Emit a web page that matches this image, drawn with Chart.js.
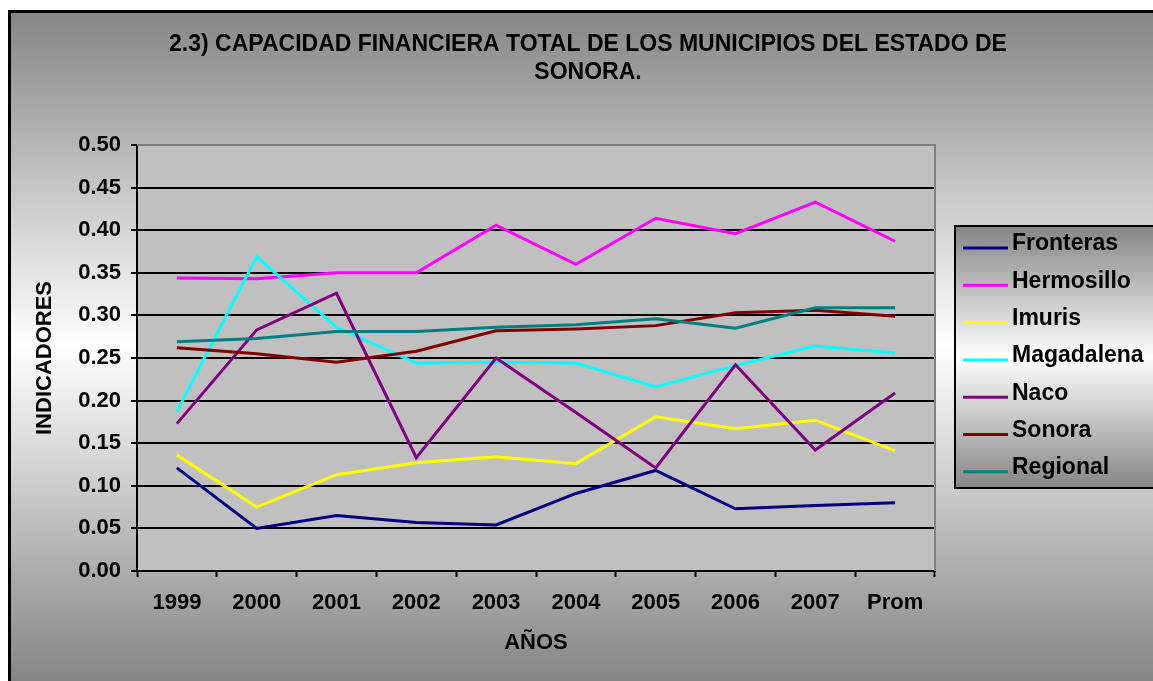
<!DOCTYPE html>
<html lang="es">
<head>
<meta charset="utf-8">
<title>Capacidad financiera total - Sonora</title>
<script src="https://cdn.jsdelivr.net/npm/chart.js@4.4.1/dist/chart.umd.min.js"></script>
<style>
  html, body { margin: 0; padding: 0; background: #fff; }
  #wrap { width: 1153px; height: 681px; }
  canvas { display: block; }
</style>
</head>
<body>
<div id="wrap"><canvas id="chart" width="1153" height="681"></canvas></div>
<script>
// Categorías (años) y valores de cada municipio
const categories = ['1999', '2000', '2001', '2002', '2003', '2004', '2005', '2006', '2007', 'Prom'];
const fronteras  = [0.121, 0.050, 0.065, 0.057, 0.054, 0.091, 0.118, 0.073, 0.077, 0.080];
const hermosillo = [0.344, 0.343, 0.350, 0.350, 0.406, 0.360, 0.414, 0.396, 0.433, 0.387];
const imuris     = [0.136, 0.075, 0.113, 0.127, 0.134, 0.126, 0.181, 0.167, 0.177, 0.141];
const magadalena = [0.187, 0.369, 0.286, 0.244, 0.245, 0.244, 0.216, 0.241, 0.264, 0.256];
const naco       = [0.173, 0.283, 0.326, 0.133, 0.250, 0.186, 0.121, 0.242, 0.142, 0.209];
const sonora     = [0.262, 0.255, 0.245, 0.258, 0.282, 0.284, 0.288, 0.303, 0.306, 0.299];
const regional   = [0.269, 0.273, 0.281, 0.281, 0.286, 0.289, 0.296, 0.285, 0.309, 0.309];

const seriesNames = ['Fronteras', 'Hermosillo', 'Imuris', 'Magadalena', 'Naco', 'Sonora', 'Regional'];
const seriesData = [fronteras, hermosillo, imuris, magadalena, naco, sonora, regional];
const seriesColors = ['#000080', '#FF00FF', '#FFFF00', '#00FFFF', '#800080', '#800000', '#008080'];

const titleLines = ['2.3) CAPACIDAD FINANCIERA TOTAL DE LOS MUNICIPIOS DEL ESTADO DE', 'SONORA.'];
const FONT = "'Liberation Sans', Arial, Helvetica, sans-serif";

function grayBand(ctx, y0, y1) {
  const g = ctx.createLinearGradient(0, y0, 0, y1);
  g.addColorStop(0, '#858585');
  g.addColorStop(0.5, '#ffffff');
  g.addColorStop(1, '#858585');
  return g;
}

// Fondo, marco, título y leyenda
const decor = {
  id: 'decor',
  beforeDraw(chart) {
    const ctx = chart.ctx;
    const W = chart.width, H = chart.height;
    const a = chart.chartArea;
    ctx.save();
    ctx.fillStyle = '#ffffff';
    ctx.fillRect(0, 0, W, H);
    ctx.fillStyle = grayBand(ctx, 10, H);
    ctx.fillRect(8, 10, W - 8, H - 10);
    ctx.strokeStyle = '#000';
    ctx.lineWidth = 3;
    ctx.beginPath();
    ctx.moveTo(9.5, H);
    ctx.lineTo(9.5, 11.5);
    ctx.lineTo(W, 11.5);
    ctx.stroke();
    ctx.fillStyle = '#C0C0C0';
    ctx.fillRect(a.left, a.top, a.right - a.left, a.bottom - a.top);
    ctx.restore();
  },
  beforeDatasetsDraw(chart) {
    const ctx = chart.ctx;
    const a = chart.chartArea;
    ctx.save();
    ctx.strokeStyle = '#808080';
    ctx.lineWidth = 2;
    ctx.beginPath();
    ctx.moveTo(a.left, a.top);
    ctx.lineTo(a.right, a.top);
    ctx.lineTo(a.right, a.bottom);
    ctx.stroke();
    ctx.restore();
  },
  afterDraw(chart) {
    const ctx = chart.ctx;
    ctx.save();
    // título
    ctx.fillStyle = '#000';
    ctx.font = 'bold 23px ' + FONT;
    ctx.textAlign = 'center';
    ctx.textBaseline = 'middle';
    ctx.fillText(titleLines[0], 588, 45);
    ctx.fillText(titleLines[1], 588, 73);

    // leyenda
    const lx = 955, ly = 226, lw = 230, lh = 262;
    ctx.fillStyle = grayBand(ctx, ly, ly + lh);
    ctx.fillRect(lx, ly, lw, lh);
    ctx.strokeStyle = '#000';
    ctx.lineWidth = 2;
    ctx.strokeRect(lx, ly, lw, lh);
    ctx.font = 'bold 23px ' + FONT;
    ctx.textAlign = 'left';
    ctx.textBaseline = 'middle';
    chart.data.datasets.forEach((ds, i) => {
      const cy = 244 + i * 37.3;
      ctx.strokeStyle = ds.borderColor;
      ctx.lineWidth = 3;
      ctx.beginPath();
      ctx.moveTo(963, cy + 4);
      ctx.lineTo(1008, cy + 4);
      ctx.stroke();
      ctx.fillStyle = '#000';
      ctx.fillText(ds.label, 1012, cy);
    });
    ctx.restore();
  }
};

const datasets = seriesNames.map((name, i) => ({
  label: name,
  data: seriesData[i],
  borderColor: seriesColors[i],
  backgroundColor: seriesColors[i],
  borderWidth: 3,
  pointRadius: 0,
  pointHoverRadius: 0,
  tension: 0,
  fill: false,
  order: seriesNames.length - i
}));

new Chart(document.getElementById('chart'), {
  type: 'line',
  data: { labels: categories, datasets },
  plugins: [decor],
  options: {
    responsive: false,
    animation: false,
    events: [],
    layout: { padding: { top: 145, right: 218, left: 0, bottom: 0 } },
    plugins: {
      legend: { display: false },
      title: { display: false },
      tooltip: { enabled: false }
    },
    scales: {
      x: {
        type: 'category',
        offset: true,
        afterFit(scale) { scale.height = 110; },
        grid: {
          offset: true,
          drawOnChartArea: false,
          drawTicks: true,
          tickLength: 6,
          tickColor: '#000',
          tickWidth: 2
        },
        border: { display: true, color: '#000', width: 2 },
        ticks: {
          color: '#000',
          padding: 13,
          maxRotation: 0,
          autoSkip: false,
          font: { family: FONT, size: 22, weight: 'bold' }
        },
        title: {
          display: true,
          text: 'AÑOS',
          color: '#000',
          padding: { top: 0, bottom: 25 },
          font: { family: FONT, size: 22, weight: 'bold' }
        }
      },
      y: {
        min: 0,
        max: 0.5,
        afterFit(scale) { scale.width = 137; },
        grid: {
          color: ctx => (ctx.tick && ctx.tick.value >= 0.499) ? 'rgba(0,0,0,0)' : '#000',
          lineWidth: 2,
          drawTicks: true,
          tickLength: 6,
          tickColor: '#000',
          tickWidth: 2
        },
        border: { display: true, color: '#000', width: 2 },
        ticks: {
          stepSize: 0.05,
          color: '#000',
          padding: 10,
          font: { family: FONT, size: 22, weight: 'bold' },
          callback: v => Number(v).toFixed(2)
        },
        title: {
          display: true,
          text: 'INDICADORES',
          color: '#000',
          padding: { top: 32, bottom: 0 },
          font: { family: FONT, size: 22, weight: 'bold' }
        }
      }
    }
  }
});
</script>
</body>
</html>
